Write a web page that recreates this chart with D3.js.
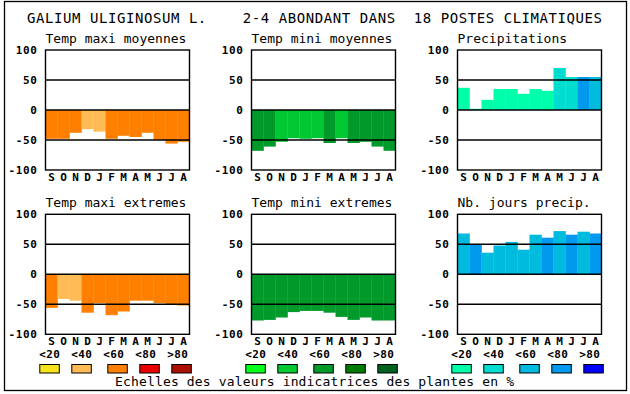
<!DOCTYPE html>
<html><head><meta charset="utf-8">
<script src="https://cdn.jsdelivr.net/npm/d3@7"></script>
<style>
html,body{margin:0;padding:0;background:#fff;}
svg{display:block;}
</style></head>
<body>
<script>
// ---- data ----
const months = ["S","O","N","D","J","F","M","A","M","J","J","A"];
const yTicks = [-100,-50,0,50,100];
const gridValues = [50,0,-50];
const legendLabels = ["<20","<40","<60","<80",">80"];

const orangeScale = ["#f8e41c","#ffbb55","#ff8000","#e80000","#aa1100"];
const greenScale  = ["#00ff1a","#00c832","#009a2b","#007a00","#006020"];
const blueScale   = ["#00ffaa","#00ddd0","#00bbdd","#0099ee","#0000ff"];

const titles = ["Temp maxi moyennes","Temp mini moyennes","Precipitations",
                "Temp maxi extremes","Temp mini extremes","Nb. jours precip."];

const tmaxMoyValues = [-48,-48,-38,-32,-36,-48,-43,-45,-38,-50,-56,-53];
const tmaxMoyClass  = [2,2,2,1,1,2,2,2,2,2,2,2];
const tminMoyValues = [-68,-61,-53,-47,-48,-47,-55,-47,-55,-53,-61,-68];
const tminMoyClass  = [2,2,1,1,1,1,2,1,2,2,2,2];
const precValues    = [37,2,17,35,35,27,35,32,70,55,55,55];
const precClass     = [0,0,0,0,0,0,0,0,1,1,3,2];
const tmaxExtValues = [-56,-41,-44,-64,-48,-68,-62,-44,-44,-48,-50,-52];
const tmaxExtClass  = [2,1,1,2,2,2,2,2,2,2,2,2];
const tminExtValues = [-77,-76,-72,-63,-61,-61,-64,-71,-76,-72,-77,-77];
const tminExtClass  = [2,2,2,2,2,2,2,2,2,2,2,2];
const joursValues   = [68,50,36,48,54,41,66,61,72,66,71,68];
const joursClass    = [2,3,2,2,2,2,2,3,2,3,2,3];

const mainTitle = "GALIUM ULIGINOSUM L.    2-4 ABONDANT DANS  18 POSTES CLIMATIQUES";
const footer = "Echelles des valeurs indicatrices des plantes en %";

// ---- layout ----
const W = 630, H = 394;
const MONO = "'DejaVu Sans Mono', 'Liberation Mono', monospace";
const svg = d3.select("body").append("svg").attr("width", W).attr("height", H);

svg.append("rect").attr("x",4.5).attr("y",1.5).attr("width",622).attr("height",389)
  .attr("fill","none").attr("stroke","#000").attr("stroke-width",1.3);

svg.append("text").attr("x",27).attr("y",23)
  .attr("font-family",MONO).attr("font-size",14)
  .attr("textLength",575).attr("lengthAdjust","spacing")
  .attr("xml:space","preserve").style("white-space","pre")
  .text(mainTitle);

const panels = [
  {values:tmaxMoyValues, cls:tmaxMoyClass, pal:orangeScale},
  {values:tminMoyValues, cls:tminMoyClass, pal:greenScale},
  {values:precValues,    cls:precClass,    pal:blueScale},
  {values:tmaxExtValues, cls:tmaxExtClass, pal:orangeScale},
  {values:tminExtValues, cls:tminExtClass, pal:greenScale},
  {values:joursValues,   cls:joursClass,   pal:blueScale}
];

const colX = [45.5, 251.5, 457.5];
const rowY = [50, 214.3];
const pw = 144, ph = 120;

panels.forEach((p, i) => {
  const col = i % 3, row = Math.floor(i / 3);
  const x0 = colX[col], y0 = rowY[row];
  const g = svg.append("g").attr("transform", `translate(${x0},${y0})`);
  const x = d3.scaleBand().domain(d3.range(12)).range([0, pw]).padding(0);
  const y = d3.scaleLinear().domain([-100, 100]).range([ph, 0]);

  g.selectAll("rect.bar").data(p.values).join("rect").attr("class","bar")
    .attr("x", (d, j) => x(j))
    .attr("width", x.bandwidth() + 0.3)
    .attr("y", d => Math.min(y(d), y(0)))
    .attr("height", d => Math.abs(y(d) - y(0)))
    .attr("fill", (d, j) => p.pal[p.cls[j]]);

  g.selectAll("line.grid").data(gridValues).join("line").attr("class","grid")
    .attr("x1", 0).attr("x2", pw)
    .attr("y1", d => y(d)).attr("y2", d => y(d))
    .attr("stroke", "#000").attr("stroke-width", 1.4);

  g.append("rect").attr("width", pw).attr("height", ph)
    .attr("fill","none").attr("stroke","#000").attr("stroke-width",1.4);

  // y axis
  const ya = g.append("g").call(d3.axisLeft(y).tickValues(yTicks).tickSize(0).tickPadding(8)
    .tickFormat(d => d < 0 ? "-" + Math.abs(d) : String(d)));
  ya.select(".domain").remove();
  ya.selectAll("text").attr("font-family", MONO).attr("font-size", 11)
    .attr("font-weight","bold").attr("letter-spacing", 0.6).attr("fill","#000");

  // month axis
  const mx = d3.scaleBand().domain(d3.range(12)).range([0, pw]);
  const xa = g.append("g").attr("transform", `translate(0,${ph})`)
    .call(d3.axisBottom(mx).tickSize(0).tickPadding(3).tickFormat(j => months[j]));
  xa.select(".domain").remove();
  xa.selectAll("text").attr("font-family", MONO).attr("font-size", 11)
    .attr("font-weight","bold").attr("fill","#000");

  // panel title
  g.append("text").attr("x", 0).attr("y", -7.5)
    .attr("font-family", MONO).attr("font-size", 13).attr("fill","#000")
    .text(titles[i]);
});

// legend
const legendPalettes = [orangeScale, greenScale, blueScale];
const labelOff = [0, 32, 64, 96, 128];
const boxOff = [0, 32, 68, 100, 132];
legendPalettes.forEach((pal, k) => {
  const gx = 39.3 + k * 206;
  const lg = svg.append("g").attr("transform", `translate(${gx},0)`);
  lg.selectAll("text").data(legendLabels).join("text")
    .attr("x", (d, j) => labelOff[j]).attr("y", 357.5)
    .attr("font-family", MONO).attr("font-size", 11).attr("font-weight","bold")
    .attr("letter-spacing", 0.4).attr("fill","#000")
    .text(d => d);
  lg.selectAll("rect").data(pal).join("rect")
    .attr("x", (d, j) => boxOff[j] + 0.5).attr("y", 364.5)
    .attr("width", 19.5).attr("height", 8.5)
    .attr("fill", d => d).attr("stroke", "#000").attr("stroke-width", 1);
});

svg.append("text").attr("x", 115).attr("y", 385.5)
  .attr("font-family", MONO).attr("font-size", 13).attr("fill","#000")
  .attr("textLength", 399).attr("lengthAdjust","spacing")
  .text(footer);
</script>
</body></html>
